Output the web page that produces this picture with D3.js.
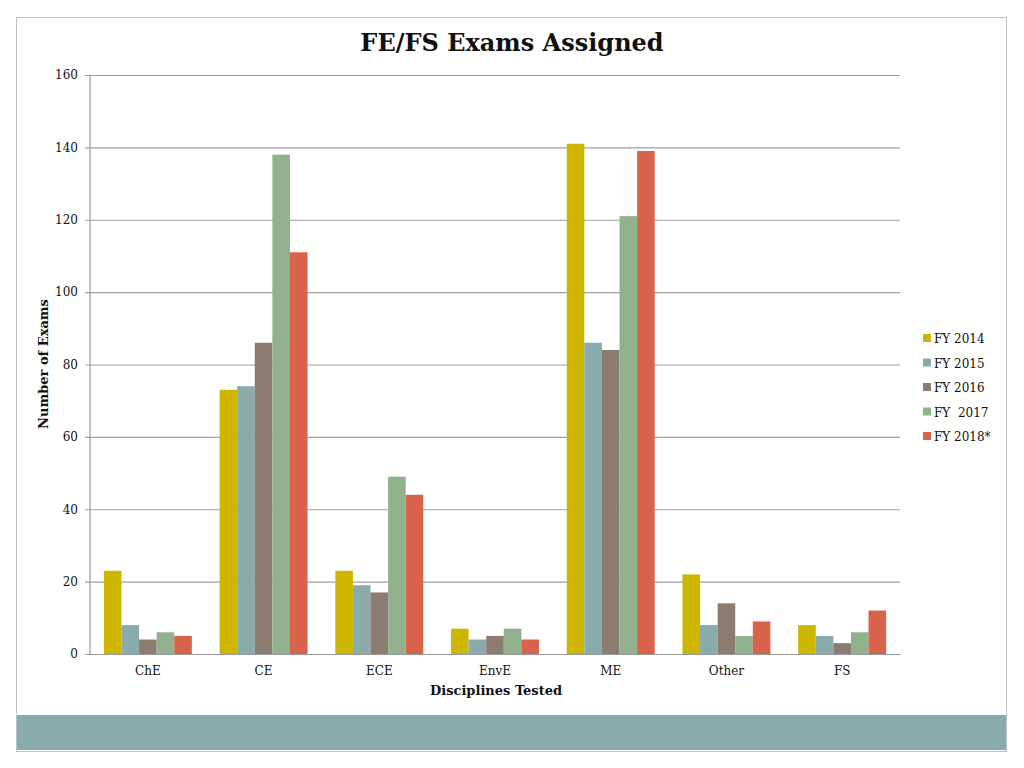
<!DOCTYPE html>
<html>
<head>
<meta charset="utf-8">
<script src="https://cdn.jsdelivr.net/npm/d3@7"></script>
<style>
  body { margin: 0; background: #fff; }
  svg text { font-family: "DejaVu Serif", "Liberation Serif", serif; fill: #111; }
  .grid line { stroke: #a0a0a0; stroke-width: 1.2; }
  .tick text { font-size: 12px; }
</style>
</head>
<body>
<div class="app"></div>
<script>
'use strict'

var width = 1024;
var height = 768;

// data
var categories = ["ChE", "CE", "ECE", "EnvE", "ME", "Other", "FS"];
var seriesNames = ["FY 2014", "FY 2015", "FY 2016", "FY  2017", "FY 2018*"];
var fy2014 = [23, 73, 23, 7, 141, 22, 8];
var fy2015 = [8, 74, 19, 4, 86, 8, 5];
var fy2016 = [4, 86, 17, 5, 84, 14, 3];
var fy2017 = [6, 138, 49, 7, 121, 5, 6];
var fy2018 = [5, 111, 44, 4, 139, 9, 12];
var yTicks = [0, 20, 40, 60, 80, 100, 120, 140, 160];

var series = [fy2014, fy2015, fy2016, fy2017, fy2018];
var colors = ["#cdb500", "#8aabab", "#8c7b70", "#91b18e", "#d8624a"];

var plot = {left: 90, right: 900, top: 75, bottom: 654};

var svg = d3.select(".app")
  .append("svg")
  .attr("width", width)
  .attr("height", height);

// frame and bottom band
svg.append("rect")
  .attr("x", 16.5).attr("y", 17.5)
  .attr("width", 990).attr("height", 734)
  .attr("fill", "#fff")
  .attr("stroke", "#b8c3c3");

svg.append("rect")
  .attr("x", 17).attr("y", 715)
  .attr("width", 989).attr("height", 35)
  .attr("fill", "#8aabab");

// scales
var x0 = d3.scaleBand()
  .domain(categories)
  .range([plot.left, plot.right])
  .paddingInner(0.24)
  .paddingOuter(0.12);

var x1 = d3.scaleBand()
  .domain(d3.range(series.length))
  .range([0, x0.bandwidth()]);

var y = d3.scaleLinear()
  .domain([0, 160])
  .range([plot.bottom, plot.top]);

// gridlines + y axis labels
var yAxis = d3.axisLeft(y)
  .tickValues(yTicks)
  .tickSize(-(plot.right - plot.left))
  .tickPadding(12)
  .tickFormat(d3.format("d"));

var gy = svg.append("g")
  .attr("class", "grid")
  .attr("transform", "translate(" + plot.left + ",0)")
  .call(yAxis);
gy.select(".domain").remove();
gy.selectAll(".tick line").attr("x1", -5);

// vertical axis line
svg.append("line")
  .attr("x1", plot.left).attr("x2", plot.left)
  .attr("y1", plot.top).attr("y2", plot.bottom)
  .attr("stroke", "#999").attr("stroke-width", 1.2);

// bars
var groups = svg.append("g")
  .selectAll("g")
  .data(categories)
  .join("g")
  .attr("transform", function(d) { return "translate(" + x0(d) + ",0)"; });

groups.selectAll("rect")
  .data(function(d, i) { return series.map(function(s, k) { return {k: k, v: s[i]}; }); })
  .join("rect")
  .attr("x", function(d) { return x1(d.k); })
  .attr("width", x1.bandwidth())
  .attr("y", function(d) { return y(d.v); })
  .attr("height", function(d) { return y(0) - y(d.v); })
  .attr("fill", function(d) { return colors[d.k]; });

// x axis
var xAxis = d3.axisBottom(x0).tickSize(0).tickPadding(12);
var gx = svg.append("g")
  .attr("transform", "translate(0," + plot.bottom + ")")
  .call(xAxis);
gx.select(".domain").attr("stroke", "#999").attr("stroke-width", 1.2);
gx.selectAll(".tick text").style("font-size", "12px");

// titles
svg.append("text")
  .attr("x", 512).attr("y", 51)
  .attr("text-anchor", "middle")
  .style("font-size", "24px")
  .style("font-weight", "bold")
  .text("FE/FS Exams Assigned");

svg.append("text")
  .attr("x", 496).attr("y", 695)
  .attr("text-anchor", "middle")
  .style("font-size", "13px")
  .style("font-weight", "bold")
  .text("Disciplines Tested");

svg.append("text")
  .attr("transform", "translate(48,364) rotate(-90)")
  .attr("text-anchor", "middle")
  .style("font-size", "13px")
  .style("font-weight", "bold")
  .text("Number of Exams");

// legend
var legend = svg.append("g")
  .selectAll("g")
  .data(seriesNames)
  .join("g")
  .attr("transform", function(d, i) { return "translate(923," + (339 + i * 24.5) + ")"; });

legend.append("rect")
  .attr("x", 0).attr("y", -5)
  .attr("width", 8).attr("height", 8)
  .attr("fill", function(d, i) { return colors[i]; });

legend.append("text")
  .attr("x", 11).attr("y", 4)
  .style("font-size", "12px")
  .style("white-space", "pre")
  .attr("xml:space", "preserve")
  .text(function(d) { return d; });
</script>
</body>
</html>
